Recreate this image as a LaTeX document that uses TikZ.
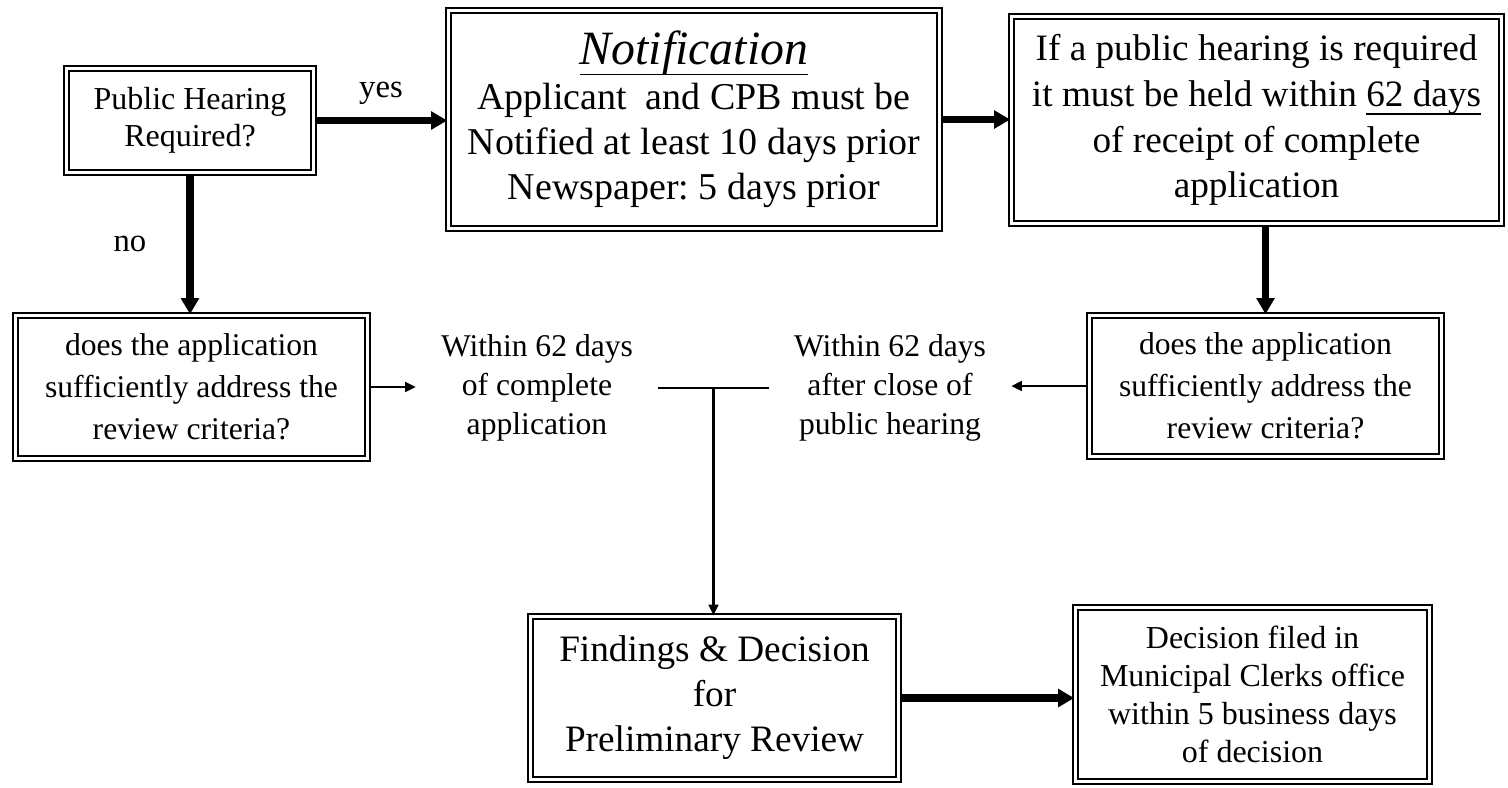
\documentclass[tikz,border=0pt]{standalone}
\usepackage{fontspec}
\setmainfont{Liberation Serif}
\usetikzlibrary{arrows.meta,positioning}
\tikzset{every node/.append style={transform shape=false}}
\tikzset{
  dbox/.style={draw, double, line width=0.75pt, double distance=0.6pt, align=center, inner sep=0pt},
  freetxt/.style={align=center, inner ysep=0pt, inner xsep=7pt, font=\fontsize{9}{11}\selectfont},
  lbl/.style={font=\fontsize{9.3}{11}\selectfont},
  thickarrow/.style={line width=2.2pt, -{Triangle[length=4.6pt,width=5pt]}},
  thinarrow/.style={line width=0.6pt, -{Triangle[length=3pt,width=2.8pt]}}
}
\newcommand{\ulfix}[2]{\underline{\raisebox{0pt}[\height][#1]{#2}}}
\frenchspacing

\begin{document}
\begin{tikzpicture}
\useasboundingbox (0,0) rectangle (15.08,-7.87);
\node[dbox, minimum width=2.47cm, minimum height=1.04cm, font=\fontsize{9.1}{10.5}\selectfont] (hear) at (1.90,-1.205) {Public Hearing\\Required?};
\node[dbox, minimum width=4.91cm, minimum height=2.18cm, font=\fontsize{10.8}{12.8}\selectfont] (notif) at (6.94,-1.195)
 {{\fontsize{13.6}{12.8}\selectfont\ulfix{1.4pt}{\textit{Notification}}}\\Applicant\ \ and CPB must be\\Notified at least 10 days prior\\Newspaper: 5 days prior};
\node[dbox, minimum width=4.90cm, minimum height=2.07cm, font=\fontsize{10.6}{13}\selectfont] (ifheld) at (12.565,-1.20)
 {If a public hearing is required\\it must be held within \ulfix{0.8pt}{62 days}\\of receipt of complete\\application};
\node[dbox, minimum width=3.52cm, minimum height=1.43cm, font=\fontsize{9}{12}\selectfont] (revl) at (1.915,-3.87)
 {does the application\\sufficiently address the\\review criteria?};
\node[dbox, minimum width=3.52cm, minimum height=1.41cm, font=\fontsize{9}{12}\selectfont] (revr) at (12.655,-3.86)
 {does the application\\sufficiently address the\\review criteria?};
\node[freetxt] (within62) at (5.37,-3.88) {Within 62 days\\of complete\\application};
\node[freetxt] (afterclose) at (8.90,-3.88) {Within 62 days\\after close of\\public hearing};
\node[dbox, minimum width=3.68cm, minimum height=1.63cm, font=\fontsize{10.6}{12.8}\selectfont] (findings) at (7.145,-6.98)
 {Findings \& Decision\\for\\Preliminary Review};
\node[dbox, minimum width=3.54cm, minimum height=1.74cm, font=\fontsize{9.1}{10.8}\selectfont] (filed) at (12.525,-6.945)
 {Decision filed in\\Municipal Clerks office\\within 5 business days\\of decision};

\draw[thickarrow] (hear.east) -- node[above, lbl] (yes) {yes} (hear.east -| notif.west);
\draw[thickarrow] (notif.east) -- (notif.east -| ifheld.west);
\draw[thickarrow] (hear.south) -- node[left=8pt, lbl] (no) {no} (hear.south |- revl.north);
\draw[thickarrow] (revr.north |- ifheld.south) -- (revr.north);
\draw[thinarrow] (revl.east) -- (revl.east -| within62.west);
\draw[thinarrow] (revr.west) -- (revr.west -| afterclose.east);
\draw[line width=0.6pt] (within62.east) -- coordinate[pos=0.5] (jm) (within62.east -| afterclose.west);
\draw[thinarrow] (jm) -- (jm |- findings.north);
\draw[thickarrow] (findings.east) -- (findings.east -| filed.west);
\end{tikzpicture}
\end{document}
